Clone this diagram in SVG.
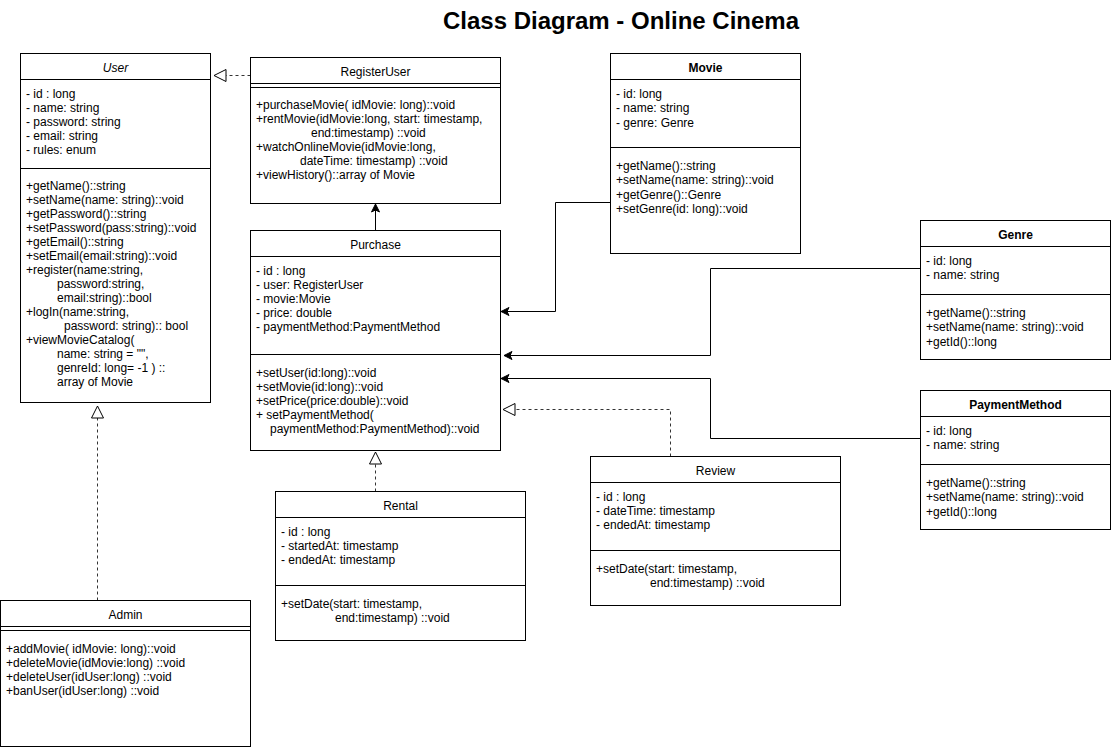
<svg xmlns="http://www.w3.org/2000/svg" width="1111" height="749" viewBox="0 0 1111 749">
<style>
.box{fill:#fff;stroke:#000;stroke-width:1}
.ln{stroke:#000;stroke-width:1;fill:none}
text{font-family:"Liberation Sans",Arial,sans-serif;font-size:12px;fill:#000}
.c{text-anchor:middle}
.b{font-weight:bold}
.it{font-style:italic}
.title{font-size:24px;font-weight:bold;text-anchor:middle}
.conn{stroke:#000;stroke-width:1;fill:none}
.dash{stroke:#333;stroke-width:1;fill:none;stroke-dasharray:3 3}
</style>
<defs>
<marker id="arr" markerUnits="userSpaceOnUse" viewBox="-10 -6 12 12" refX="0" refY="0" markerWidth="12" markerHeight="12" orient="auto">
<path d="M0,0 L-8,-4 L-6,0 L-8,4 Z" fill="#000" stroke="#000" stroke-width="1" stroke-dasharray="none"/>
</marker>
<marker id="tri" markerUnits="userSpaceOnUse" viewBox="-14 -8 16 16" refX="0" refY="0" markerWidth="16" markerHeight="16" orient="auto">
<path d="M0,0 L-12,-6 L-12,6 Z" fill="#fff" stroke="#000" stroke-width="1" stroke-dasharray="none"/>
</marker>
</defs>
<rect width="1111" height="749" fill="#fff"/>
<text class="title" x="621" y="29">Class Diagram - Online Cinema</text>

<g id="connectors">
<path class="dash" d="M250.5,75.5 H214" marker-end="url(#tri)"/>
<path class="conn" d="M375.5,230.5 V204" marker-end="url(#arr)"/>
<path class="conn" d="M610.5,202.5 H555.5 V311.5 H501" marker-end="url(#arr)"/>
<path class="conn" d="M920.5,268.5 H710.5 V355.5 H504" marker-end="url(#arr)"/>
<path class="conn" d="M920.5,438.5 H710.5 V378.5 H501" marker-end="url(#arr)"/>
<path class="dash" d="M670.5,456.5 V409.5 H503" marker-end="url(#tri)"/>
<path class="dash" d="M375.5,491.5 V452" marker-end="url(#tri)"/>
<path class="dash" d="M97.5,600.5 V406" marker-end="url(#tri)"/>
</g>

<g id="User">
<rect class="box" x="20.5" y="53.5" width="190" height="349"/>
<line class="ln" x1="20.5" y1="79.5" x2="210.5" y2="79.5"/>
<line class="ln" x1="20.5" y1="168.5" x2="210.5" y2="168.5"/>
<text class="c it" x="115.5" y="72">User</text>
<text x="26" y="98">- id : long</text>
<text x="26" y="112">- name: string</text>
<text x="26" y="126">- password: string</text>
<text x="26" y="140">- email: string</text>
<text x="26" y="154">- rules: enum</text>
<text x="26" y="190">+getName()::string</text>
<text x="26" y="204">+setName(name: string)::void</text>
<text x="26" y="218">+getPassword()::string</text>
<text x="26" y="232">+setPassword(pass:string)::void</text>
<text x="26" y="246">+getEmail()::string</text>
<text x="26" y="260">+setEmail(email:string)::void</text>
<text x="26" y="274">+register(name:string,</text>
<text x="57" y="288">password:string,</text>
<text x="57" y="302">email:string)::bool</text>
<text x="26" y="316">+logIn(name:string,</text>
<text x="64" y="330">password: string):: bool</text>
<text x="26" y="344">+viewMovieCatalog(</text>
<text x="57" y="358">name: string = "",</text>
<text x="57" y="372">genreId: long= -1 ) ::</text>
<text x="57" y="386">array of Movie</text>
</g>

<g id="RegisterUser">
<rect class="box" x="250.5" y="57.5" width="250" height="146"/>
<line class="ln" x1="250.5" y1="83.5" x2="500.5" y2="83.5"/>
<line class="ln" x1="250.5" y1="87.5" x2="500.5" y2="87.5"/>
<text class="c" x="375.5" y="76">RegisterUser</text>
<text x="256" y="109">+purchaseMovie( idMovie: long)::void</text>
<text x="256" y="123">+rentMovie(idMovie:long, start: timestamp,</text>
<text x="311" y="137">end:timestamp) ::void</text>
<text x="256" y="151">+watchOnlineMovie(idMovie:long,</text>
<text x="300" y="165">dateTime: timestamp) ::void</text>
<text x="256" y="179">+viewHistory()::array of Movie</text>
</g>

<g id="Movie">
<rect class="box" x="610.5" y="53.5" width="190" height="200"/>
<line class="ln" x1="610.5" y1="79.5" x2="800.5" y2="79.5"/>
<line class="ln" x1="610.5" y1="147.5" x2="800.5" y2="147.5"/>
<text class="c b" x="705.5" y="72">Movie</text>
<text x="616" y="98">- id: long</text>
<text x="616" y="112">- name: string</text>
<text x="616" y="127">- genre: Genre</text>
<text x="616" y="170">+getName()::string</text>
<text x="616" y="184">+setName(name: string)::void</text>
<text x="616" y="199">+getGenre()::Genre</text>
<text x="616" y="213">+setGenre(id: long)::void</text>
</g>

<g id="Purchase">
<rect class="box" x="250.5" y="230.5" width="250" height="220"/>
<line class="ln" x1="250.5" y1="256.5" x2="500.5" y2="256.5"/>
<line class="ln" x1="250.5" y1="354.5" x2="500.5" y2="354.5"/>
<text class="c" x="375.5" y="249">Purchase</text>
<text x="256" y="275">- id : long</text>
<text x="256" y="289">- user: RegisterUser</text>
<text x="256" y="303">- movie:Movie</text>
<text x="256" y="317">- price: double</text>
<text x="256" y="331">- paymentMethod:PaymentMethod</text>
<text x="256" y="377">+setUser(id:long)::void</text>
<text x="256" y="391">+setMovie(id:long)::void</text>
<text x="256" y="405">+setPrice(price:double)::void</text>
<text x="256" y="419">+ setPaymentMethod(</text>
<text x="270" y="433">paymentMethod:PaymentMethod)::void</text>
</g>

<g id="Genre">
<rect class="box" x="920.5" y="220.5" width="190" height="139"/>
<line class="ln" x1="920.5" y1="246.5" x2="1110.5" y2="246.5"/>
<line class="ln" x1="920.5" y1="294.5" x2="1110.5" y2="294.5"/>
<text class="c b" x="1015.5" y="239">Genre</text>
<text x="926" y="265">- id: long</text>
<text x="926" y="279">- name: string</text>
<text x="926" y="317">+getName()::string</text>
<text x="926" y="331">+setName(name: string)::void</text>
<text x="926" y="346">+getId()::long</text>
</g>

<g id="PaymentMethod">
<rect class="box" x="920.5" y="390.5" width="190" height="139"/>
<line class="ln" x1="920.5" y1="416.5" x2="1110.5" y2="416.5"/>
<line class="ln" x1="920.5" y1="464.5" x2="1110.5" y2="464.5"/>
<text class="c b" x="1015.5" y="409">PaymentMethod</text>
<text x="926" y="435">- id: long</text>
<text x="926" y="449">- name: string</text>
<text x="926" y="487">+getName()::string</text>
<text x="926" y="501">+setName(name: string)::void</text>
<text x="926" y="516">+getId()::long</text>
</g>

<g id="Review">
<rect class="box" x="590.5" y="456.5" width="250" height="149"/>
<line class="ln" x1="590.5" y1="482.5" x2="840.5" y2="482.5"/>
<line class="ln" x1="590.5" y1="550.5" x2="840.5" y2="550.5"/>
<text class="c" x="715.5" y="475">Review</text>
<text x="596" y="501">- id : long</text>
<text x="596" y="515">- dateTime: timestamp</text>
<text x="596" y="529">- endedAt: timestamp</text>
<text x="596" y="573">+setDate(start: timestamp,</text>
<text x="650" y="587">end:timestamp) ::void</text>
</g>

<g id="Rental">
<rect class="box" x="275.5" y="491.5" width="250" height="149"/>
<line class="ln" x1="275.5" y1="517.5" x2="525.5" y2="517.5"/>
<line class="ln" x1="275.5" y1="585.5" x2="525.5" y2="585.5"/>
<text class="c" x="400.5" y="510">Rental</text>
<text x="281" y="536">- id : long</text>
<text x="281" y="550">- startedAt: timestamp</text>
<text x="281" y="564">- endedAt: timestamp</text>
<text x="281" y="608">+setDate(start: timestamp,</text>
<text x="335" y="622">end:timestamp) ::void</text>
</g>

<g id="Admin">
<rect class="box" x="0.5" y="600.5" width="250" height="146"/>
<line class="ln" x1="0.5" y1="626.5" x2="250.5" y2="626.5"/>
<line class="ln" x1="0.5" y1="630.5" x2="250.5" y2="630.5"/>
<text class="c" x="125.5" y="619">Admin</text>
<text x="6" y="653">+addMovie( idMovie: long)::void</text>
<text x="6" y="667">+deleteMovie(idMovie:long) ::void</text>
<text x="6" y="681">+deleteUser(idUser:long) ::void</text>
<text x="6" y="695">+banUser(idUser:long) ::void</text>
</g>
</svg>
